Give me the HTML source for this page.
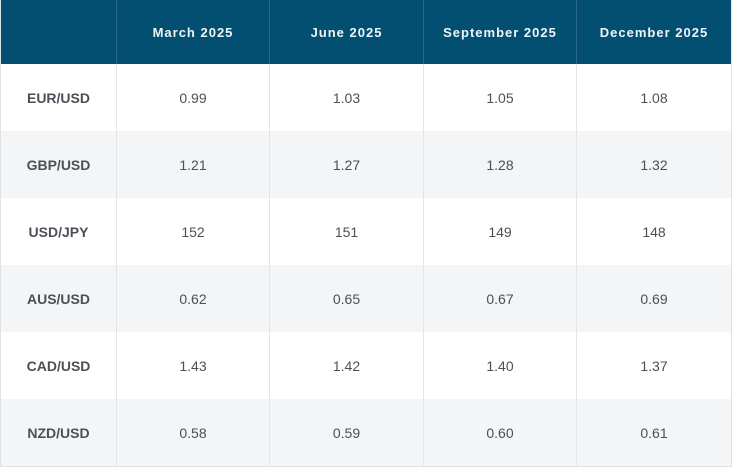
<!DOCTYPE html>
<html><head><style>
body{margin:0;background:#fff;width:734px;height:469px;overflow:hidden;font-family:"Liberation Sans",sans-serif}
table{position:absolute;left:0;top:0;width:732px;border-collapse:collapse;table-layout:fixed;border:1px solid #dfe2e5;border-top:none}
th{background:#024f72;color:#f2f5f8;font-size:13px;font-weight:bold;letter-spacing:1px;height:64px;padding:0;border-left:1px solid #2a6a88}
th:first-child{border-left:none}
td{height:67px;padding:0;text-align:center;font-size:14px;color:#4b5056;border-left:1px solid #e3e5e8}
td:first-child{font-weight:bold;border-left:none}
tr:nth-child(odd) td{background:#f4f5f7}
</style></head><body>
<table>
<colgroup><col style="width:116px"><col style="width:153px"><col style="width:154px"><col style="width:153px"><col style="width:155px"></colgroup>
<tr><th></th><th>March 2025</th><th>June 2025</th><th>September 2025</th><th>December 2025</th></tr>
<tr><td>EUR/USD</td><td>0.99</td><td>1.03</td><td>1.05</td><td>1.08</td></tr>
<tr><td>GBP/USD</td><td>1.21</td><td>1.27</td><td>1.28</td><td>1.32</td></tr>
<tr><td>USD/JPY</td><td>152</td><td>151</td><td>149</td><td>148</td></tr>
<tr><td>AUS/USD</td><td>0.62</td><td>0.65</td><td>0.67</td><td>0.69</td></tr>
<tr><td>CAD/USD</td><td>1.43</td><td>1.42</td><td>1.40</td><td>1.37</td></tr>
<tr><td>NZD/USD</td><td>0.58</td><td>0.59</td><td>0.60</td><td>0.61</td></tr>
</table>
</body></html>
